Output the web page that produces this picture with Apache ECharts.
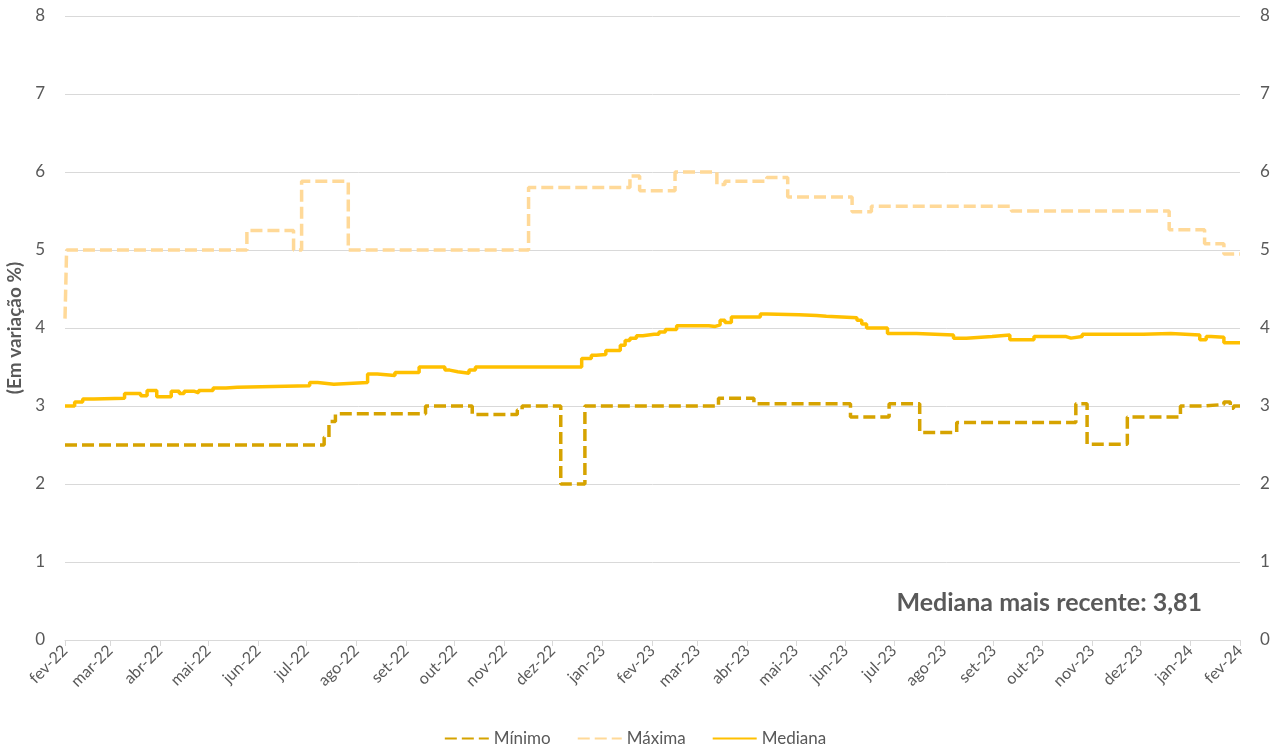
<!DOCTYPE html>
<html>
<head>
<meta charset="utf-8">
<script src="https://cdn.jsdelivr.net/npm/echarts@6/dist/echarts.min.js"></script>
<style>
  html, body { margin: 0; padding: 0; background: #fff; }
  #main { width: 1270px; height: 754px; }
</style>
</head>
<body>
<div id="main"></div>
<script>
// meses do eixo
var monthNames = ['jan', 'fev', 'mar', 'abr', 'mai', 'jun', 'jul', 'ago', 'set', 'out', 'nov', 'dez'];

// Mínimo: datas de mudança e valores
var minDates = ['2022-02-01', '2022-07-12', '2022-07-15', '2022-07-19', '2022-09-13', '2022-10-12',
  '2022-11-09', '2022-11-12', '2022-12-06', '2022-12-21', '2023-03-14', '2023-04-05', '2023-06-04',
  '2023-06-28', '2023-07-17', '2023-08-09', '2023-10-22', '2023-10-29', '2023-11-23', '2023-12-26',
  '2024-01-10', '2024-01-22', '2024-01-26', '2024-01-28', '2024-02-01'];
var minValues = [2.5, 2.6, 2.8, 2.9, 3.0, 2.89,
  2.95, 3.0, 2.0, 3.0, 3.1, 3.03, 2.86,
  3.03, 2.66, 2.79, 3.03, 2.51, 2.86, 3.0,
  3.02, 3.05, 2.97, 3.0, 3.0];

// Máxima
var maxDates = ['2022-02-01', '2022-02-02', '2022-05-25', '2022-06-23', '2022-06-28', '2022-07-27',
  '2022-11-16', '2023-01-18', '2023-01-24', '2023-02-15', '2023-03-13', '2023-03-18', '2023-04-13',
  '2023-04-26', '2023-06-05', '2023-06-17', '2023-09-12', '2023-12-19', '2024-01-10', '2024-01-22',
  '2024-02-01'];
var maxValues = [4.12, 5.0, 5.25, 5.0, 5.88, 5.0,
  5.8, 5.95, 5.76, 6.0, 5.84, 5.88, 5.93,
  5.68, 5.49, 5.56, 5.5, 5.26, 5.08, 4.95,
  4.95];

// Mediana
var medDates = ['2022-02-01', '2022-02-07', '2022-02-12', '2022-02-19', '2022-03-10', '2022-03-20',
  '2022-03-24', '2022-03-30', '2022-04-08', '2022-04-13', '2022-04-16', '2022-04-22', '2022-04-25',
  '2022-05-04', '2022-05-12', '2022-05-19', '2022-07-03', '2022-07-08', '2022-07-18', '2022-08-08',
  '2022-08-14', '2022-08-25', '2022-09-09', '2022-09-25', '2022-09-28', '2022-10-03', '2022-10-10',
  '2022-10-14', '2022-10-19', '2022-12-19', '2022-12-25', '2022-12-28', '2023-01-03', '2023-01-12',
  '2023-01-15', '2023-01-18', '2023-01-22', '2023-01-26', '2023-02-02', '2023-02-05', '2023-02-09',
  '2023-02-16', '2023-03-08', '2023-03-12', '2023-03-15', '2023-03-18', '2023-03-22', '2023-04-09',
  '2023-04-13', '2023-05-03', '2023-05-14', '2023-05-20', '2023-06-08', '2023-06-11', '2023-06-14',
  '2023-06-27', '2023-07-15', '2023-08-07', '2023-08-15', '2023-08-31', '2023-09-11', '2023-09-26',
  '2023-10-16', '2023-10-19', '2023-10-26', '2023-12-03', '2023-12-20', '2024-01-07', '2024-01-11',
  '2024-01-14', '2024-01-22', '2024-02-01'];
var medValues = [3.0, 3.05, 3.09, 3.1, 3.16, 3.13,
  3.2, 3.12, 3.19, 3.16, 3.19, 3.17, 3.2,
  3.23, 3.24, 3.26, 3.3, 3.28, 3.3, 3.41,
  3.39, 3.43, 3.5, 3.46, 3.44, 3.42, 3.46,
  3.5, 3.5, 3.61, 3.65, 3.66, 3.71, 3.78,
  3.84, 3.87, 3.9, 3.92, 3.92, 3.95, 3.98,
  4.03, 4.02, 4.04, 4.1, 4.07, 4.14, 4.18,
  4.17, 4.16, 4.15, 4.13, 4.1, 4.05, 4.0,
  3.93, 3.91, 3.87, 3.89, 3.91, 3.85, 3.89,
  3.87, 3.89, 3.92, 3.93, 3.91, 3.85, 3.89,
  3.88, 3.81, 3.81];

function pairs(dates, values) {
  var out = [];
  for (var i = 0; i < dates.length; i++) {
    out.push([dates[i], values[i]]);
  }
  return out;
}

var txtColor = '#595959';
var font = 'Lato, "Open Sans", sans-serif';

var myChart = echarts.init(document.getElementById('main'));
myChart.setOption({
  animation: false,
  textStyle: { fontFamily: font, color: txtColor },
  grid: { left: 65, right: 30, top: 16, bottom: 114, containLabel: false, outerBoundsMode: 'none' },
  legend: {
    bottom: 2,
    left: 'center',
    itemWidth: 44,
    itemHeight: 4,
    itemGap: 26,
    itemStyle: { opacity: 0 },
    textStyle: { fontSize: 17, color: txtColor, fontFamily: font },
    data: ['Mínimo', 'Máxima', 'Mediana']
  },
  xAxis: {
    type: 'time',
    min: '2022-02-01',
    max: '2024-02-01',
    minInterval: 28 * 86400000,
    maxInterval: 31 * 86400000,
    splitLine: { show: false },
    axisLine: { lineStyle: { color: '#d9d9d9' } },
    axisTick: { show: true, length: 6, lineStyle: { color: '#d9d9d9' } },
    axisLabel: {
      rotate: 45,
      fontSize: 16,
      color: txtColor,
      margin: 8,
      showMinLabel: true,
      showMaxLabel: true,
      hideOverlap: false,
      formatter: function (val) {
        var d = new Date(val);
        return monthNames[d.getMonth()] + '-' + String(d.getFullYear()).slice(2);
      }
    }
  },
  yAxis: [{
    type: 'value',
    min: 0,
    max: 8,
    interval: 1,
    name: '(Em variação %)',
    nameLocation: 'middle',
    nameGap: 38,
    nameTextStyle: { fontSize: 19, fontWeight: 'bold', color: txtColor },
    axisLabel: { fontSize: 17, color: txtColor, margin: 20 },
    axisLine: { show: false },
    axisTick: { show: false },
    splitLine: { lineStyle: { color: '#d9d9d9', width: 1 } }
  }, {
    type: 'value',
    min: 0,
    max: 8,
    interval: 1,
    position: 'right',
    axisLabel: { fontSize: 17, color: txtColor, margin: 20 },
    axisLine: { show: false },
    axisTick: { show: false },
    splitLine: { show: false }
  }],
  graphic: [{
    type: 'text',
    x: 1202,
    y: 603,
    style: {
      text: 'Mediana mais recente: 3,81',
      fontSize: 25,
      fontWeight: 'bold',
      fill: txtColor,
      fontFamily: font,
      textAlign: 'right',
      textVerticalAlign: 'middle'
    }
  }],
  series: [{
    name: 'Mínimo',
    type: 'line',
    step: 'end',
    symbol: 'none',
    color: '#D6A300',
    lineStyle: { color: '#D6A300', width: 3.5, type: [12, 5] },
    data: pairs(minDates, minValues)
  }, {
    name: 'Máxima',
    type: 'line',
    step: 'end',
    symbol: 'none',
    color: '#FFD998',
    lineStyle: { color: '#FFD998', width: 3.5, type: [12, 5] },
    data: pairs(maxDates, maxValues)
  }, {
    name: 'Mediana',
    type: 'line',
    step: 'end',
    symbol: 'none',
    color: '#FFC000',
    lineStyle: { color: '#FFC000', width: 3.5 },
    data: pairs(medDates, medValues)
  }]
});
</script>
</body>
</html>
